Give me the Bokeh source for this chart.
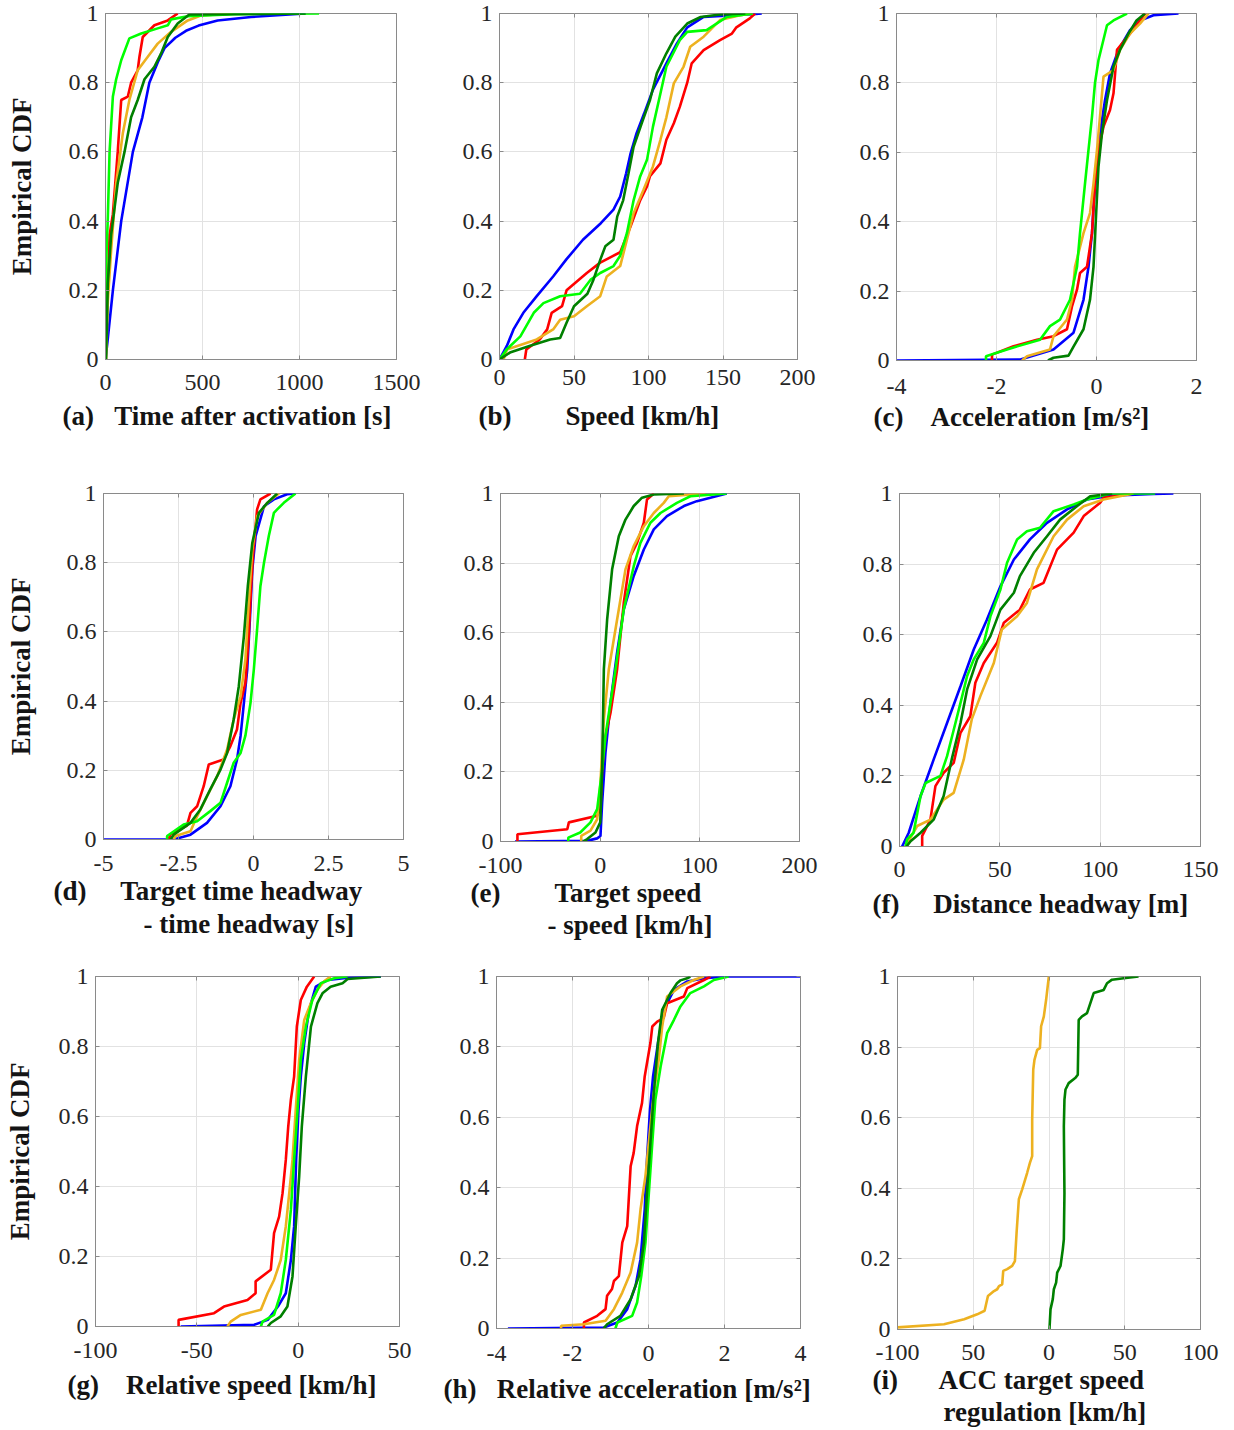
from bokeh.embed import file_html
from bokeh.layouts import column, row
from bokeh.models import CustomLabelingPolicy, FixedTicker, LinearAxis, Range1d, Title
from bokeh.plotting import figure
from bokeh.resources import INLINE

FONT = "Liberation Serif"
BLUE = "#0000ff"
RED = "#ff0000"
LIME = "#00ff00"
DKGREEN = "#008000"
ORANGE = "#edb120"
GRAY = "#8a8a8a"
INK = "#262626"
NB = "\u00a0"

y_ticks = [0, 0.2, 0.4, 0.6, 0.8, 1]

# (a) time after activation [s]
a_blue = [(0, 0), (10, 0.05), (38, 0.2), (81, 0.4), (141, 0.6), (190, 0.7), (226, 0.8), (270, 0.86),
          (304, 0.9), (360, 0.93), (415, 0.95), (480, 0.965), (578, 0.98), (750, 0.99), (1030, 1.0)]
a_red = [(0, 0), (9, 0.17), (21, 0.36), (38, 0.42), (63, 0.6), (81, 0.75), (115, 0.76), (132, 0.8),
         (166, 0.836), (175, 0.875), (192, 0.932), (252, 0.966), (321, 0.98), (372, 1.0)]
a_orange = [(3, 0), (12, 0.17), (29, 0.315), (55, 0.508), (89, 0.653), (123, 0.75), (166, 0.836),
            (218, 0.875), (269, 0.913), (338, 0.947), (424, 0.98), (492, 0.994), (655, 1.0)]
a_lime = [(0, 0), (5, 0.3), (12, 0.41), (21, 0.6), (38, 0.76), (55, 0.81), (81, 0.865), (123, 0.928),
          (184, 0.942), (269, 0.957), (321, 0.966), (338, 0.983), (424, 0.992), (664, 0.998), (1101, 1.0)]
a_dkgreen = [(3, 0), (12, 0.22), (29, 0.36), (63, 0.51), (98, 0.6), (132, 0.7), (166, 0.75), (201, 0.81),
             (252, 0.846), (286, 0.884), (321, 0.932), (372, 0.971), (432, 0.997), (1032, 1.0)]

# (b) speed [km/h]
b_blue = [(0, 0), (5, 0.04), (9.4, 0.087), (16, 0.135), (25, 0.183), (36, 0.24), (45, 0.29), (56, 0.346),
          (68, 0.394), (76.5, 0.433), (81, 0.471), (85, 0.538), (88, 0.596), (92, 0.654), (97, 0.71),
          (103, 0.78), (112, 0.856), (119, 0.913), (126, 0.96), (137, 0.99), (170, 0.998), (176, 1.0)]
b_red = [(17, 0), (18, 0.029), (27, 0.058), (32, 0.087), (35, 0.135), (42, 0.154), (45, 0.2), (58.6, 0.25),
         (67.6, 0.28), (81, 0.31), (88, 0.385), (94.4, 0.46), (99, 0.5), (101, 0.53), (108, 0.567),
         (112, 0.635), (117, 0.683), (121, 0.73), (126, 0.8), (129, 0.856), (137, 0.894), (148, 0.923),
         (156, 0.942), (159, 0.96), (168, 0.986), (171.6, 1.0)]
b_orange = [(2.7, 0), (5, 0.029), (25, 0.058), (36, 0.087), (40.7, 0.115), (50, 0.125), (58.6, 0.154),
            (67.6, 0.183), (72, 0.24), (81, 0.27), (85.5, 0.346), (90, 0.423), (96.6, 0.49), (103, 0.558),
            (108, 0.635), (112, 0.7), (117, 0.798), (123.5, 0.846), (128, 0.904), (137, 0.933),
            (148, 0.981), (161.5, 0.995), (170, 1.0)]
b_lime = [(0, 0), (5, 0.03), (14, 0.067), (23, 0.135), (29.5, 0.163), (40.7, 0.183), (54, 0.19), (61, 0.23),
          (67.6, 0.25), (76.5, 0.27), (81, 0.3), (85.5, 0.365), (90, 0.46), (94.4, 0.529), (99, 0.577),
          (103, 0.673), (108, 0.769), (112, 0.846), (121, 0.923), (126, 0.947), (139, 0.952),
          (152.6, 0.99), (170, 1.0)]
b_dkgreen = [(0, 0), (7, 0.02), (20.6, 0.04), (34, 0.058), (40.7, 0.062), (45, 0.106), (50, 0.154), (59, 0.19),
             (63, 0.23), (67.6, 0.288), (71, 0.327), (76.5, 0.346), (79, 0.413), (83, 0.46), (86.6, 0.538),
             (90, 0.615), (95.5, 0.683), (101, 0.75), (105.6, 0.827), (112, 0.885), (118, 0.933),
             (126, 0.971), (135, 0.99), (148, 0.997), (165, 1.0)]

# (c) acceleration [m/s2]
c_blue = [(-4, 0), (-1.52, 0.003), (-0.86, 0.032), (-0.46, 0.08), (-0.26, 0.175), (-0.16, 0.27),
          (-0.09, 0.367), (-0.05, 0.463), (0.01, 0.559), (0.07, 0.655), (0.17, 0.75), (0.27, 0.827),
          (0.44, 0.895), (0.67, 0.952), (0.87, 0.98), (1.14, 0.995), (1.64, 1.0)]
c_red = [(-2.09, 0), (-2.09, 0.017), (-1.66, 0.041), (-1.19, 0.06), (-0.86, 0.07), (-0.59, 0.09),
         (-0.49, 0.156), (-0.39, 0.204), (-0.33, 0.252), (-0.19, 0.27), (-0.09, 0.367), (-0.03, 0.51),
         (0.04, 0.607), (0.14, 0.674), (0.27, 0.722), (0.34, 0.77), (0.41, 0.895), (0.67, 0.942),
         (0.87, 0.98), (0.97, 1.0)]
c_orange = [(-1.49, 0), (-1.39, 0.012), (-0.93, 0.032), (-0.86, 0.07), (-0.59, 0.118), (-0.49, 0.175),
            (-0.43, 0.27), (-0.26, 0.367), (-0.13, 0.425), (-0.06, 0.51), (0.01, 0.607), (0.07, 0.703),
            (0.14, 0.818), (0.34, 0.837), (0.47, 0.895), (0.67, 0.942), (0.87, 0.971), (1.04, 1.0)]
c_lime = [(-2.21, 0), (-2.21, 0.012), (-1.79, 0.032), (-1.13, 0.06), (-0.93, 0.099), (-0.73, 0.118),
          (-0.53, 0.175), (-0.39, 0.27), (-0.33, 0.367), (-0.23, 0.51), (-0.16, 0.607), (-0.09, 0.703),
          (-0.03, 0.8), (0.04, 0.866), (0.21, 0.966), (0.34, 0.98), (0.61, 1.0)]
c_dkgreen = [(-0.97, 0), (-0.86, 0.008), (-0.56, 0.014), (-0.46, 0.04), (-0.26, 0.09), (-0.13, 0.175),
             (-0.06, 0.27), (-0.01, 0.415), (0.04, 0.559), (0.11, 0.655), (0.21, 0.75), (0.34, 0.847),
             (0.47, 0.895), (0.64, 0.942), (0.8, 0.98), (0.97, 1.0)]

# (d) target time headway - time headway [s]
d_blue = [(-5, 0), (-2.66, 0), (-2.1, 0.014), (-1.55, 0.048), (-1.1, 0.096), (-0.77, 0.154), (-0.55, 0.231),
          (-0.43, 0.3), (-0.32, 0.395), (-0.21, 0.49), (-0.12, 0.636), (-0.04, 0.78), (0.07, 0.877),
          (0.35, 0.963), (0.68, 0.983), (1.12, 0.998), (1.4, 1.0)]
d_red = [(-2.83, 0), (-2.77, 0.014), (-2.22, 0.04), (-2.1, 0.077), (-1.88, 0.096), (-1.66, 0.154),
         (-1.49, 0.217), (-1.0, 0.231), (-0.77, 0.27), (-0.55, 0.318), (-0.43, 0.395), (-0.27, 0.453),
         (-0.16, 0.588), (-0.08, 0.732), (-0.01, 0.829), (0.12, 0.954), (0.23, 0.983), (0.57, 1.0)]
d_orange = [(-2.66, 0), (-2.6, 0.01), (-2.1, 0.024), (-1.88, 0.067), (-1.55, 0.125), (-1.21, 0.183),
            (-0.88, 0.26), (-0.66, 0.347), (-0.43, 0.414), (-0.27, 0.52), (-0.16, 0.684), (-0.04, 0.838),
            (0.12, 0.934), (0.46, 0.973), (0.85, 1.0)]
d_lime = [(-2.88, 0), (-2.88, 0.01), (-2.33, 0.043), (-1.88, 0.053), (-1.44, 0.082), (-1.1, 0.106),
          (-0.88, 0.164), (-0.66, 0.222), (-0.43, 0.25), (-0.27, 0.3), (-0.1, 0.395), (0.01, 0.49),
          (0.12, 0.607), (0.23, 0.732), (0.35, 0.8), (0.51, 0.877), (0.68, 0.944), (0.79, 0.954),
          (1.01, 0.973), (1.4, 1.0)]
d_dkgreen = [(-2.77, 0), (-2.66, 0.014), (-2.1, 0.048), (-1.77, 0.087), (-1.44, 0.145), (-1.1, 0.202),
             (-0.88, 0.25), (-0.66, 0.347), (-0.49, 0.443), (-0.32, 0.588), (-0.19, 0.732), (-0.04, 0.857),
             (0.18, 0.944), (0.46, 0.973), (0.79, 1.0)]

# (e) target speed - speed [km/h]
e_blue = [(-85.5, 0), (-13, 0.002), (-3, 0.009), (0.3, 0.016), (2, 0.112), (5.3, 0.255), (10.4, 0.4),
          (17, 0.543), (23.7, 0.667), (33.7, 0.763), (43.8, 0.839), (53.8, 0.897), (67, 0.935), (84, 0.964),
          (97, 0.978), (110.6, 0.988), (127, 1.0)]
e_red = [(-83, 0), (-83, 0.021), (-33, 0.035), (-31.4, 0.055), (-3, 0.074), (0.3, 0.093), (2, 0.208),
         (5.3, 0.303), (10.4, 0.37), (17, 0.495), (23.7, 0.686), (30.4, 0.82), (37, 0.858), (43.8, 0.916),
         (47, 0.983), (53.8, 1.0)]
e_orange = [(-19, 0), (-19, 0.016), (-9.7, 0.031), (-3, 0.064), (0.1, 0.16), (3.7, 0.351), (8.7, 0.495),
            (17, 0.638), (25.4, 0.782), (33.7, 0.849), (43.8, 0.906), (53.8, 0.944), (63.8, 0.973),
            (68.8, 0.992), (105.6, 1.0)]
e_lime = [(-32, 0), (-32, 0.011), (-20, 0.026), (-9.7, 0.055), (-3, 0.093), (2, 0.208), (5.3, 0.303),
          (10.4, 0.4), (15.4, 0.495), (23.7, 0.667), (33.7, 0.791), (40.4, 0.858), (50.4, 0.916),
          (60.5, 0.944), (77, 0.973), (90.5, 0.992), (127, 1.0)]
e_dkgreen = [(-17, 0), (-13, 0.007), (-4.7, 0.026), (0.1, 0.055), (2, 0.208), (3.7, 0.495), (7, 0.638),
             (12, 0.782), (18.7, 0.877), (25.4, 0.925), (33.7, 0.964), (42, 0.988), (53.8, 0.997), (84, 1.0)]

# (f) distance headway [m]
f_blue = [(1.3, 0), (4.6, 0.039), (10.5, 0.143), (17, 0.246), (23.7, 0.35), (30.4, 0.454), (37, 0.558),
          (43.6, 0.643), (50.3, 0.737), (57, 0.813), (65, 0.87), (73.5, 0.917), (83.5, 0.955),
          (93.4, 0.983), (105, 0.994), (126.6, 0.999), (136.5, 1.0)]
f_red = [(11.3, 0), (11.3, 0.03), (15.4, 0.076), (17.9, 0.171), (22, 0.209), (27, 0.237), (30.4, 0.322),
         (35.3, 0.369), (37.8, 0.464), (42, 0.52), (48.6, 0.577), (52, 0.634), (60, 0.671), (65, 0.728),
         (71.8, 0.747), (78.5, 0.841), (86.8, 0.889), (91.8, 0.936), (100, 0.974), (101.7, 0.988),
         (116.6, 1.0)]
f_orange = [(3, 0), (8.8, 0.058), (15.4, 0.076), (22, 0.133), (27, 0.152), (32, 0.246), (36, 0.36),
            (40.3, 0.426), (47, 0.52), (51, 0.615), (58.6, 0.652), (63.5, 0.69), (68.5, 0.785),
            (76.8, 0.879), (83.5, 0.926), (91.8, 0.964), (101.7, 0.983), (116.6, 1.0)]
f_lime = [(3, 0), (3.8, 0.02), (7, 0.039), (10.5, 0.143), (13, 0.18), (20.4, 0.2), (23.7, 0.256), (27, 0.33),
          (30.4, 0.407), (33.7, 0.483), (37, 0.53), (42, 0.577), (45.3, 0.652), (50.3, 0.728),
          (53.6, 0.804), (58.6, 0.87), (63.5, 0.893), (70, 0.903), (76.8, 0.95), (86.8, 0.969),
          (93.4, 0.983), (105, 1.0), (127.4, 1.0)]
f_dkgreen = [(3.5, 0), (5.5, 0.015), (10.5, 0.039), (17, 0.076), (22, 0.143), (26, 0.246), (30.4, 0.35),
             (33.7, 0.445), (38.7, 0.53), (45.3, 0.596), (50.3, 0.671), (57, 0.719), (60, 0.766),
             (66.9, 0.832), (73.5, 0.879), (80, 0.926), (88.4, 0.964), (95, 0.992), (106, 1.0)]

# (g) relative speed [km/h]
g_blue = [(-58, 0), (-21.7, 0.005), (-15, 0.019), (-10, 0.057), (-6.1, 0.095), (-3.6, 0.19), (-2, 0.286),
          (-1, 0.476), (0.16, 0.619), (1.3, 0.714), (3, 0.81), (5.4, 0.905), (8.7, 0.971), (14.5, 0.99),
          (26, 0.997), (40.8, 1.0)]
g_red = [(-59, 0), (-59, 0.019), (-41.5, 0.038), (-36.6, 0.057), (-25, 0.076), (-21, 0.095), (-21, 0.129),
         (-13.5, 0.162), (-11.9, 0.267), (-9.4, 0.314), (-7.7, 0.381), (-6.1, 0.476), (-4.9, 0.571),
         (-3.6, 0.648), (-2, 0.714), (-0.66, 0.857), (1.3, 0.933), (4.3, 0.971), (7.9, 1.0)]
g_orange = [(-34.9, 0), (-33.3, 0.014), (-28.3, 0.033), (-18.4, 0.048), (-15.1, 0.095), (-11.9, 0.133),
            (-8.6, 0.19), (-6.1, 0.286), (-4.4, 0.381), (-2.8, 0.476), (-1.2, 0.619), (0.5, 0.762),
            (3, 0.876), (6.3, 0.924), (9.5, 0.962), (12.8, 0.986), (16, 1.0)]
g_lime = [(-18.4, 0), (-17.6, 0.014), (-11.9, 0.033), (-8.6, 0.095), (-6.1, 0.19), (-3.6, 0.333),
          (-2, 0.476), (-0.3, 0.619), (1.3, 0.762), (3.8, 0.857), (7, 0.933), (11.2, 0.981),
          (17.8, 0.995), (24.4, 1.0)]
g_dkgreen = [(-15, 0), (-13.5, 0.01), (-8.6, 0.029), (-5.3, 0.057), (-2.8, 0.143), (-1.2, 0.286),
             (0.5, 0.429), (1.8, 0.571), (3.8, 0.714), (6.3, 0.857), (9.5, 0.924), (12, 0.952), (16, 0.971),
             (21.9, 0.981), (24.4, 0.993), (40.8, 1.0)]

# (h) relative acceleration [m/s2]
h_blue = [(-3.7, 0), (-1.18, 0.003), (-0.82, 0.017), (-0.56, 0.055), (-0.34, 0.121), (-0.21, 0.197),
          (-0.1, 0.338), (-0.04, 0.48), (0.04, 0.622), (0.12, 0.716), (0.25, 0.811), (0.4, 0.905),
          (0.67, 0.962), (1.02, 0.986), (1.46, 0.995), (2.07, 1.0), (4, 1.0)]
h_red = [(-1.7, 0), (-1.7, 0.017), (-1.35, 0.036), (-1.13, 0.055), (-1.09, 0.093), (-0.96, 0.112),
         (-0.91, 0.135), (-0.78, 0.149), (-0.69, 0.244), (-0.56, 0.291), (-0.47, 0.461), (-0.39, 0.499),
         (-0.3, 0.575), (-0.17, 0.641), (-0.1, 0.716), (0.05, 0.811), (0.1, 0.858), (0.23, 0.872),
         (0.4, 0.882), (0.49, 0.924), (0.93, 0.943), (1.02, 0.967), (1.46, 0.99), (1.63, 1.0)]
h_orange = [(-2.3, 0), (-2.3, 0.008), (-1.7, 0.012), (-1.13, 0.022), (-0.91, 0.055), (-0.69, 0.102),
            (-0.47, 0.159), (-0.3, 0.244), (-0.21, 0.338), (-0.08, 0.433), (0.05, 0.575), (0.14, 0.669),
            (0.27, 0.764), (0.36, 0.858), (0.49, 0.943), (0.84, 0.972), (1.19, 0.99), (1.46, 1.0)]
h_lime = [(-0.87, 0), (-0.82, 0.017), (-0.43, 0.036), (-0.3, 0.074), (-0.19, 0.149), (-0.08, 0.244),
          (0.01, 0.386), (0.1, 0.527), (0.18, 0.65), (0.32, 0.745), (0.49, 0.839), (0.67, 0.877),
          (0.84, 0.915), (1.1, 0.953), (1.46, 0.972), (1.72, 0.99), (2.11, 1.0)]
h_dkgreen = [(-1.18, 0), (-1.09, 0.012), (-0.74, 0.036), (-0.47, 0.083), (-0.25, 0.149), (-0.12, 0.244),
             (-0.04, 0.386), (0.05, 0.527), (0.14, 0.669), (0.25, 0.811), (0.36, 0.905), (0.58, 0.953),
             (0.75, 0.981), (0.84, 0.989), (1.02, 0.995), (1.1, 1.0)]

# (i) ACC target speed regulation [km/h]
i_orange = [(-100, 0.006), (-69.3, 0.015), (-56, 0.029), (-47.4, 0.043), (-42.5, 0.053), (-40.3, 0.095),
            (-36.3, 0.109), (-34.2, 0.114), (-33, 0.123), (-30.9, 0.128), (-30.2, 0.166), (-27.6, 0.171),
            (-24.3, 0.18), (-22.5, 0.194), (-21.4, 0.274), (-19.9, 0.369), (-17.7, 0.397), (-14.4, 0.444),
            (-12.6, 0.472), (-11.1, 0.491), (-11.1, 0.595), (-10.4, 0.736), (-9.6, 0.764), (-7.8, 0.792),
            (-6, 0.797), (-5.2, 0.859), (-3.4, 0.887), (-1.9, 0.934), (-0.1, 1.0)]
i_dkgreen = [(0.3, 0), (1, 0.057), (2.5, 0.086), (3.2, 0.114), (4.7, 0.133), (5.4, 0.161), (7.6, 0.18),
             (9.1, 0.227), (9.8, 0.255), (10.2, 0.387), (9.8, 0.576), (10.2, 0.651), (10.9, 0.68),
             (13, 0.698), (17.5, 0.713), (19, 0.722), (19.6, 0.877), (21.8, 0.887), (25.1, 0.896),
             (29.5, 0.953), (36.1, 0.962), (38.3, 0.981), (41.6, 0.991), (49.3, 0.995), (59.1, 1.0)]


def caption(p, txt, offset, standoff):
    p.add_layout(Title(text=txt, align="left", offset=offset, standoff=standoff,
                       text_font=FONT, text_font_size="27px", text_font_style="bold",
                       text_color="#141414"), "below")


def box_ticks(p, ticker, side):
    # inward ticks on the top and right edges of the box, without labels
    ax = LinearAxis(ticker=ticker, major_label_text_font_size="1px", major_label_standoff=0,
                    major_label_policy=CustomLabelingPolicy(code="return new Set()"),
                    major_tick_in=4, major_tick_out=0, major_tick_line_color=GRAY,
                    minor_tick_line_color=None, axis_line_color=None)
    p.add_layout(ax, side)


def make_panel(cfg, curves):
    p = figure(frame_width=cfg["fw"], frame_height=cfg["fh"],
               x_range=Range1d(*cfg["xr"]), y_range=Range1d(0, 1),
               min_border_left=cfg["left"], min_border_right=cfg["right"],
               min_border_top=cfg["top"], min_border_bottom=cfg["bottom"],
               output_backend="svg", toolbar_location=None)
    p.outline_line_color = GRAY
    xt = FixedTicker(ticks=cfg["xticks"])
    yt = FixedTicker(ticks=y_ticks)
    p.xaxis.ticker = xt
    p.yaxis.ticker = yt
    p.xgrid.ticker = xt
    p.ygrid.ticker = yt
    p.grid.grid_line_color = "#e2e2e2"

    xlabels = {t: "%g" % t for t in cfg["xticks"]}
    xlabels.update(cfg.get("xfix", {}))
    p.xaxis.major_label_overrides = xlabels
    p.yaxis.major_label_overrides = {t: "%g" % t for t in y_ticks}
    p.xaxis.major_label_standoff = cfg["xs"]
    p.yaxis.major_label_standoff = 7

    for ax in p.xaxis + p.yaxis:
        ax.major_label_text_font = FONT
        ax.major_label_text_font_size = "24px"
        ax.major_label_text_color = INK
        ax.axis_line_color = GRAY
        ax.major_tick_line_color = GRAY
        ax.major_tick_in = 4
        ax.major_tick_out = 0
        ax.minor_tick_line_color = None

    if "ylab" in cfg:
        p.yaxis.axis_label = "Empirical CDF"
        p.yaxis.axis_label_standoff = cfg["ylab"]
        p.yaxis.axis_label_text_font = FONT
        p.yaxis.axis_label_text_font_size = "27px"
        p.yaxis.axis_label_text_font_style = "bold"
        p.yaxis.axis_label_text_color = "#141414"

    box_ticks(p, xt, "above")
    box_ticks(p, yt, "right")

    for pts, color in curves:
        p.line([q[0] for q in pts], [q[1] for q in pts], line_color=color, line_width=2.6)

    tag_line = cfg["tag"] + NB * cfg["gap"] + cfg["lines"][0][0]
    caption(p, tag_line, cfg["tag_x"], cfg["lines"][0][1])
    for txt, off, so in cfg["lines"][1:]:
        caption(p, txt, off, so)
    return p


def five(blue, red, orange, lime, dkgreen):
    return [(blue, BLUE), (red, RED), (orange, ORANGE), (lime, LIME), (dkgreen, DKGREEN)]


pa = make_panel(dict(xr=(0, 1500), xticks=[0, 500, 1000, 1500], fw=291, fh=346, left=105, right=34,
                     top=13, bottom=110, xs=15, tag="(a)", tag_x=-43, gap=3,
                     lines=[("Time after activation [s]", 12)], ylab=29),
                five(a_blue, a_red, a_orange, a_lime, a_dkgreen))
pb = make_panel(dict(xr=(0, 200), xticks=[0, 50, 100, 150, 200], fw=298, fh=346, left=69, right=33,
                     top=13, bottom=110, xs=10, tag="(b)", tag_x=-21, gap=8,
                     lines=[("Speed [km/h]", 23)]),
                five(b_blue, b_red, b_orange, b_lime, b_dkgreen))
pc = make_panel(dict(xr=(-4, 2), xticks=[-4, -2, 0, 2], fw=300, fh=347, left=66, right=30,
                     top=13, bottom=109, xs=18, tag="(c)", tag_x=-23, gap=4,
                     lines=[("Acceleration [m/s\u00b2]", 7)]),
                five(c_blue, c_red, c_orange, c_lime, c_dkgreen))

pd_ = make_panel(dict(xr=(-5, 5), xticks=[-5, -2.5, 0, 2.5, 5], fw=300, fh=346, left=103, right=27,
                      top=24, bottom=118, xs=16, tag="(d)", tag_x=-50, gap=5,
                      lines=[("Target time headway", 0), ("- time headway [s]", 40, 3)], ylab=28),
                 five(d_blue, d_red, d_orange, d_lime, d_dkgreen))
pe = make_panel(dict(xr=(-100, 200), xticks=[-100, 0, 100, 200], fw=299, fh=348, left=70, right=31,
                     top=24, bottom=116, xs=16, tag="(e)", tag_x=-30, gap=8,
                     lines=[("Target speed", 0), ("- speed [km/h]", 47, 0)]),
                five(e_blue, e_red, e_orange, e_lime, e_dkgreen))
pf = make_panel(dict(xr=(0, 150), xticks=[0, 50, 100, 150], fw=301, fh=353, left=69, right=26,
                     top=24, bottom=111, xs=15, tag="(f)", tag_x=-27, gap=5,
                     lines=[("Distance headway [m]", 14)]),
                five(f_blue, f_red, f_orange, f_lime, f_dkgreen))

pg = make_panel(dict(xr=(-100, 50), xticks=[-100, -50, 0, 50], fw=304, fh=350, left=95, right=31,
                     top=19, bottom=102, xs=16, tag="(g)", tag_x=-28, gap=4,
                     lines=[("Relative speed [km/h]", 14)], ylab=21),
                five(g_blue, g_red, g_orange, g_lime, g_dkgreen))
ph = make_panel(dict(xr=(-4, 4), xticks=[-4, -2, 0, 2, 4], fw=304, fh=352, left=66, right=30,
                     top=19, bottom=100, xs=17, tag="(h)", tag_x=-53, gap=3,
                     lines=[("Relative acceleration [m/s\u00b2]", 17)]),
                five(h_blue, h_red, h_orange, h_lime, h_dkgreen))
pi_ = make_panel(dict(xr=(-100, 100), xticks=[-100, -50, 0, 50, 100], fw=303, fh=353, left=67, right=26,
                      top=19, bottom=99, xs=15, tag="(i)", tag_x=-25, gap=6, xfix={-50: "50"},
                      lines=[("ACC target speed", 0), ("regulation [km/h]", 46, 0)]),
                 [(i_orange, ORANGE), (i_dkgreen, DKGREEN)])

page = column(row(pa, pb, pc), row(pd_, pe, pf), row(pg, ph, pi_))

with open("out.html", "w") as fh:
    fh.write(file_html(page, INLINE))
